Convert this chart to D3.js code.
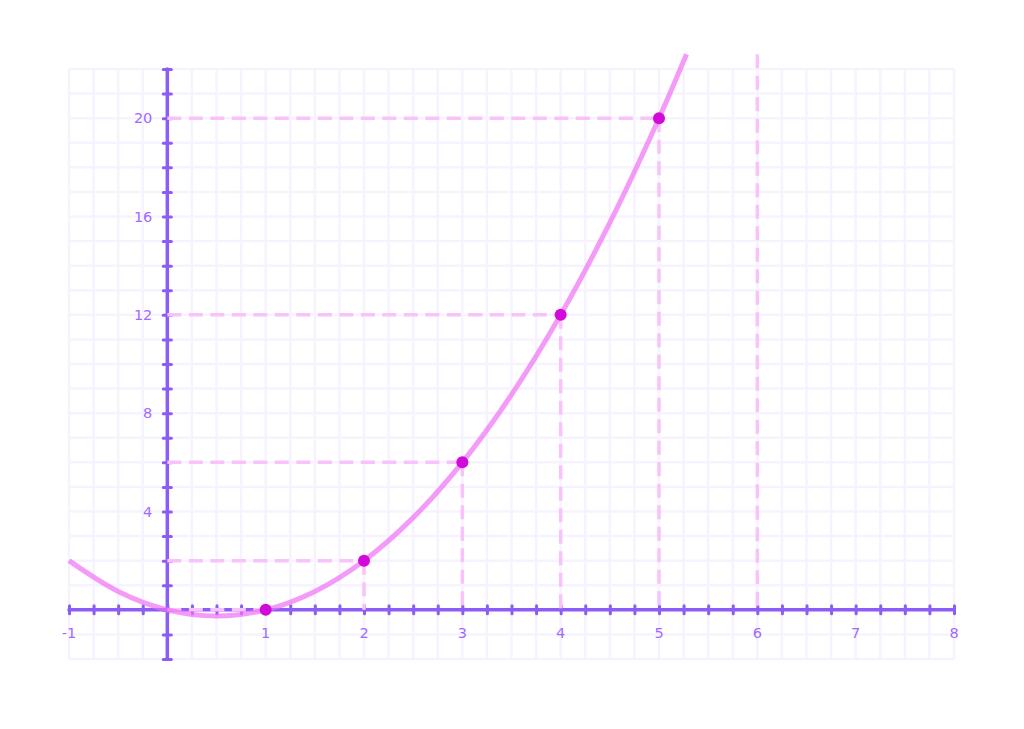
<!DOCTYPE html>
<html><head><meta charset="utf-8">
<script src="https://cdn.jsdelivr.net/npm/d3@7"></script>
<style>html,body{margin:0;padding:0;background:#fff;}svg{display:block;}</style>
</head><body>
<svg id="chart" width="1024" height="729"></svg>
<script>
// Data
const curveX = [-1, -0.5, 0, 0.5, 1, 1.5, 2, 2.5, 3, 3.5, 4, 4.5, 5, 5.28];
const curveY = [2, 0.75, 0, -0.25, 0, 0.75, 2, 3.75, 6, 8.75, 12, 15.75, 20, 22.6];
const pointX = [1, 2, 3, 4, 5];
const pointY = [0, 2, 6, 12, 20];
const guideX = [6];
const guideTop = [22.6];
const xTickLabels = [-1, 1, 2, 3, 4, 5, 6, 7, 8];
const yTickLabels = [4, 8, 12, 16, 20];

const svg = d3.select("#chart");
const x = d3.scaleLinear().domain([-1, 8]).range([69, 954]);
const y = d3.scaleLinear().domain([-2, 22]).range([659, 69]);

const gridColor = "#f6f3ff", axisColor = "#8b5cf6", labelColor = "#9f6bff";

// grid
const xGrid = d3.range(-1, 8.001, 0.25);
const yGrid = d3.range(-2, 22.001, 1);
const g = svg.append("g");
g.selectAll("line.vx").data(xGrid).join("line")
  .attr("x1", d => x(d)).attr("x2", d => x(d)).attr("y1", y(-2)).attr("y2", y(22))
  .attr("stroke", gridColor).attr("stroke-width", 2.5);
g.selectAll("line.hy").data(yGrid).join("line")
  .attr("y1", d => y(d)).attr("y2", d => y(d)).attr("x1", x(-1)).attr("x2", x(8))
  .attr("stroke", gridColor).attr("stroke-width", 2.5);

// axes
const xAxis = d3.axisBottom(x).tickValues(xGrid).tickSize(8).tickFormat("");
const xa = svg.append("g").attr("transform", `translate(0,${y(0) - 4})`).call(xAxis);
xa.select(".domain").remove();
xa.selectAll(".tick line").attr("stroke", axisColor).attr("stroke-width", 3).attr("stroke-linecap", "round");
svg.append("line").attr("x1", x(-1)).attr("x2", x(8)).attr("y1", y(0)).attr("y2", y(0))
  .attr("stroke", axisColor).attr("stroke-width", 3.5).attr("stroke-linecap", "round");

const yAxis = d3.axisLeft(y).tickValues(yGrid).tickSize(8).tickFormat("");
const ya = svg.append("g").attr("transform", `translate(${x(0) + 4},0)`).call(yAxis);
ya.select(".domain").remove();
ya.selectAll(".tick line").attr("stroke", axisColor).attr("stroke-width", 3).attr("stroke-linecap", "round");
svg.append("line").attr("x1", x(0)).attr("x2", x(0)).attr("y1", y(-2)).attr("y2", y(22))
  .attr("stroke", axisColor).attr("stroke-width", 3.5).attr("stroke-linecap", "round");

// labels
svg.append("g").selectAll("text").data(xTickLabels).join("text")
  .attr("x", d => x(d)).attr("y", y(0) + 28).attr("text-anchor", "middle")
  .attr("font-family", "DejaVu Sans").attr("font-size", 14.5).attr("fill", labelColor)
  .text(d => d);
svg.append("g").selectAll("text").data(yTickLabels).join("text")
  .attr("x", x(0) - 15).attr("y", d => y(d) + 5).attr("text-anchor", "end")
  .attr("font-family", "DejaVu Sans").attr("font-size", 14.5).attr("fill", labelColor)
  .text(d => d);

// dashed guides
const dashColor = "#f8c2fa";
const pts = pointX.map((d, i) => ({x: d, y: pointY[i]}));
const dg = svg.append("g").attr("stroke", dashColor).attr("stroke-width", 3.5).attr("stroke-dasharray", "14,7.5");
dg.selectAll("line.h").data(pts).join("line")
  .attr("x1", x(0)).attr("x2", d => x(d.x)).attr("y1", d => y(d.y)).attr("y2", d => y(d.y));
dg.selectAll("line.v").data(pts.filter(d => d.y !== 0)).join("line").attr("class", "v")
  .attr("x1", d => x(d.x)).attr("x2", d => x(d.x)).attr("y1", d => y(d.y)).attr("y2", y(0));
dg.selectAll("line.g6").data(guideX).join("line").attr("class", "g6")
  .attr("x1", d => x(d)).attr("x2", d => x(d)).attr("y1", (d, i) => y(guideTop[i])).attr("y2", y(0));

// curve
const curveData = curveX.map((d, i) => [d, curveY[i]]);
svg.append("path").datum(curveData)
  .attr("d", d3.line().x(d => x(d[0])).y(d => y(d[1])).curve(d3.curveCatmullRom))
  .attr("fill", "none").attr("stroke", "#f06ff5").attr("stroke-opacity", 0.7).attr("stroke-width", 5);

// points
svg.append("g").selectAll("circle").data(pts).join("circle")
  .attr("cx", d => x(d.x)).attr("cy", d => y(d.y)).attr("r", 6).attr("fill", "#d10ad9");
</script>
</body></html>
